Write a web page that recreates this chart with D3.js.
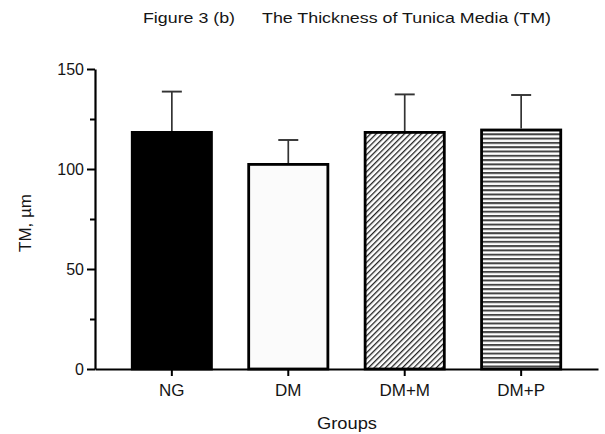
<!DOCTYPE html>
<html>
<head>
<meta charset="utf-8">
<script src="https://cdn.jsdelivr.net/npm/d3@7"></script>
<style>
    body { margin: 0; background: #fff; }
    text { font-family: "Liberation Sans", Arial, sans-serif; fill: #151515; }
</style>
</head>
<body>
<svg id="chart" width="605" height="434"></svg>
<script>
// data
var groups = ["NG", "DM", "DM+M", "DM+P"];
var meanTM = [118.3, 102.3, 118.3, 119.5];
var sdTM = [20.4, 12.2, 19.0, 17.5];
var yTicks = [0, 50, 100, 150];
var yMinorTicks = [25, 75, 125];
var fills = ["#000", "#fbfbfb", "url(#diag)", "url(#horiz)"];

var svg = d3.select("#chart");

var style = {
    left: 95,
    right: 598,
    top: 69,
    bottom: 369
};

// hatch patterns
var defs = svg.append("defs");
var diag = defs.append("pattern")
    .attr("id", "diag")
    .attr("patternUnits", "userSpaceOnUse")
    .attr("width", 4)
    .attr("height", 4)
    .attr("patternTransform", "rotate(45)");
diag.append("rect").attr("width", 4).attr("height", 4).attr("fill", "#fff");
diag.append("line")
    .attr("x1", 0).attr("y1", 0).attr("x2", 0).attr("y2", 4)
    .attr("stroke", "#222").attr("stroke-width", 2.6);

var horiz = defs.append("pattern")
    .attr("id", "horiz")
    .attr("patternUnits", "userSpaceOnUse")
    .attr("width", 10)
    .attr("height", 4.3);
horiz.append("rect").attr("width", 10).attr("height", 4.3).attr("fill", "#fff");
horiz.append("line")
    .attr("x1", 0).attr("y1", 1).attr("x2", 10).attr("y2", 1)
    .attr("stroke", "#444").attr("stroke-width", 2);

var x = d3.scaleBand()
    .domain(groups)
    .range([style.left, style.right])
    .paddingInner(0.32)
    .paddingOuter(0.32);

var y = d3.scaleLinear()
    .domain([0, 150])
    .range([style.bottom, style.top]);

// bars
svg.selectAll(".bar")
    .data(groups)
    .enter()
    .append("rect")
    .attr("class", "bar")
    .attr("x", function(d) { return x(d); })
    .attr("y", function(d, i) { return y(meanTM[i]); })
    .attr("width", x.bandwidth())
    .attr("height", function(d, i) { return y(0) - y(meanTM[i]); })
    .attr("fill", function(d, i) { return fills[i]; })
    .attr("stroke", "#000")
    .attr("stroke-width", 2.8);

// error bars (upper only)
var err = svg.selectAll(".err")
    .data(groups)
    .enter()
    .append("g")
    .attr("class", "err");

err.append("line")
    .attr("x1", function(d) { return x(d) + x.bandwidth() / 2; })
    .attr("x2", function(d) { return x(d) + x.bandwidth() / 2; })
    .attr("y1", function(d, i) { return y(meanTM[i]) - 1.4; })
    .attr("y2", function(d, i) { return y(meanTM[i] + sdTM[i]); })
    .attr("stroke", "#333")
    .attr("stroke-width", 1.7);

err.append("line")
    .attr("x1", function(d) { return x(d) + x.bandwidth() / 2 - 10; })
    .attr("x2", function(d) { return x(d) + x.bandwidth() / 2 + 10; })
    .attr("y1", function(d, i) { return y(meanTM[i] + sdTM[i]); })
    .attr("y2", function(d, i) { return y(meanTM[i] + sdTM[i]); })
    .attr("stroke", "#333")
    .attr("stroke-width", 1.9);

// y axis
var yAxis = svg.append("g")
    .attr("transform", "translate(" + style.left + ",0)")
    .call(d3.axisLeft(y).tickValues(yTicks).tickSize(8).tickPadding(3).tickSizeOuter(0));
yAxis.selectAll(".tick text").style("font-size", "16px");

svg.append("g")
    .attr("transform", "translate(" + style.left + ",0)")
    .call(d3.axisLeft(y).tickValues(yMinorTicks).tickSize(5).tickFormat("").tickSizeOuter(0))
    .select(".domain").remove();

// x axis
var xAxis = svg.append("g")
    .attr("transform", "translate(0," + style.bottom + ")")
    .call(d3.axisBottom(x).tickSize(7).tickPadding(8).tickSizeOuter(0));
xAxis.selectAll(".tick text").style("font-size", "17px");

svg.selectAll(".domain")
    .attr("stroke", "#000")
    .attr("stroke-width", 2.2);
svg.selectAll(".tick line")
    .attr("stroke", "#000")
    .attr("stroke-width", 2);
svg.selectAll(".tick text")
    .attr("fill", "#151515")
    .style("font-family", "Liberation Sans, Arial, sans-serif");

// titles
svg.append("text")
    .attr("x", 143)
    .attr("y", 23)
    .attr("textLength", 92)
    .attr("lengthAdjust", "spacingAndGlyphs")
    .style("font-size", "15px")
    .text("Figure 3 (b)");

svg.append("text")
    .attr("x", 262)
    .attr("y", 23)
    .attr("textLength", 289)
    .attr("lengthAdjust", "spacingAndGlyphs")
    .style("font-size", "15px")
    .text("The Thickness of Tunica Media (TM)");

svg.append("text")
    .attr("transform", "translate(31,223) rotate(-90)")
    .attr("text-anchor", "middle")
    .style("font-size", "17px")
    .text("TM, µm");

svg.append("text")
    .attr("x", 317)
    .attr("y", 429)
    .attr("textLength", 60)
    .attr("lengthAdjust", "spacingAndGlyphs")
    .style("font-size", "17px")
    .text("Groups");
</script>
</body>
</html>
